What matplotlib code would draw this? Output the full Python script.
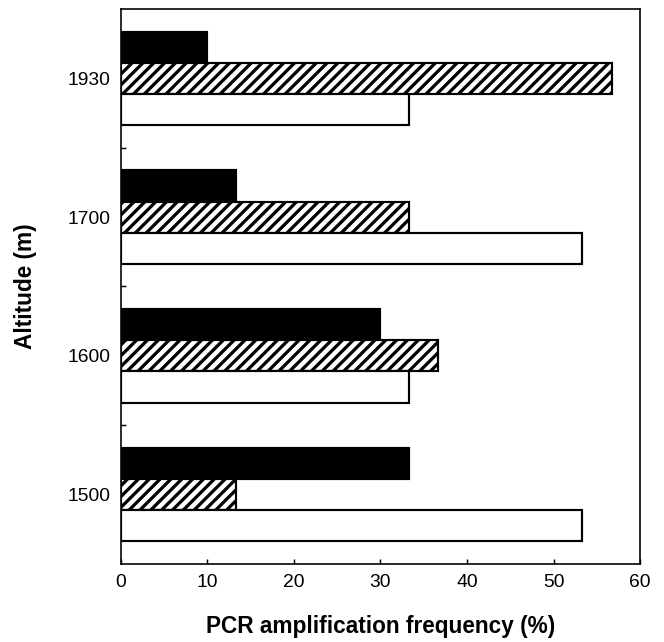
import matplotlib.pyplot as plt
import numpy as np

# altitudes, bottom to top
altitudes = ['1500', '1600', '1700', '1930']

# PCR amplification frequency (%) for the three bar types in each group
solid_vals = [33.3, 30.0, 13.3, 10.0]
hatched_vals = [13.3, 36.7, 33.3, 56.7]
open_vals = [53.3, 33.3, 53.3, 33.3]

plt.rcParams['font.family'] = ['Liberation Sans', 'DejaVu Sans']
plt.rcParams['hatch.linewidth'] = 1.8
plt.rcParams['hatch.color'] = 'black'

dpi = 130
fig = plt.figure(figsize=(664 / dpi, 642 / dpi), dpi=dpi)
ax = fig.add_axes([0.182, 0.1215, 0.964 - 0.182, 0.986 - 0.1215])

y = np.arange(len(altitudes))
h = 0.225

ax.barh(y + h, solid_vals, h, color='black', edgecolor='black', linewidth=1.2)
ax.barh(y, hatched_vals, h, color='white', edgecolor='black', linewidth=1.2, hatch='////')
ax.barh(y - h, open_vals, h, color='white', edgecolor='black', linewidth=1.2)

ax.set_xlim(0, 60)
ax.set_ylim(-0.5, len(altitudes) - 0.5)
ax.set_xticks(np.arange(0, 61, 10))
ax.set_yticks(y)
ax.set_yticklabels(altitudes)
ax.set_yticks(y[:-1] + 0.5, minor=True)

ax.tick_params(axis='x', direction='in', length=2.5, width=0.8, pad=5.5, labelsize=10.7)
ax.tick_params(axis='y', which='major', length=0, pad=6, labelsize=10.7)
ax.tick_params(axis='y', which='minor', direction='in', length=2.5, width=0.8)

for sp in ax.spines.values():
    sp.set_linewidth(0.9)

ax.set_xlabel('PCR amplification frequency (%)', fontsize=12.5, fontweight='bold')
ax.set_ylabel('Altitude (m)', fontsize=12.5, fontweight='bold')
ax.xaxis.set_label_coords(0.5, -0.113)
ax.xaxis.label.set_va('center')
ax.yaxis.set_label_coords(-0.183, 0.5)
ax.yaxis.label.set_va('center')

fig.savefig('out.png', dpi=dpi)
